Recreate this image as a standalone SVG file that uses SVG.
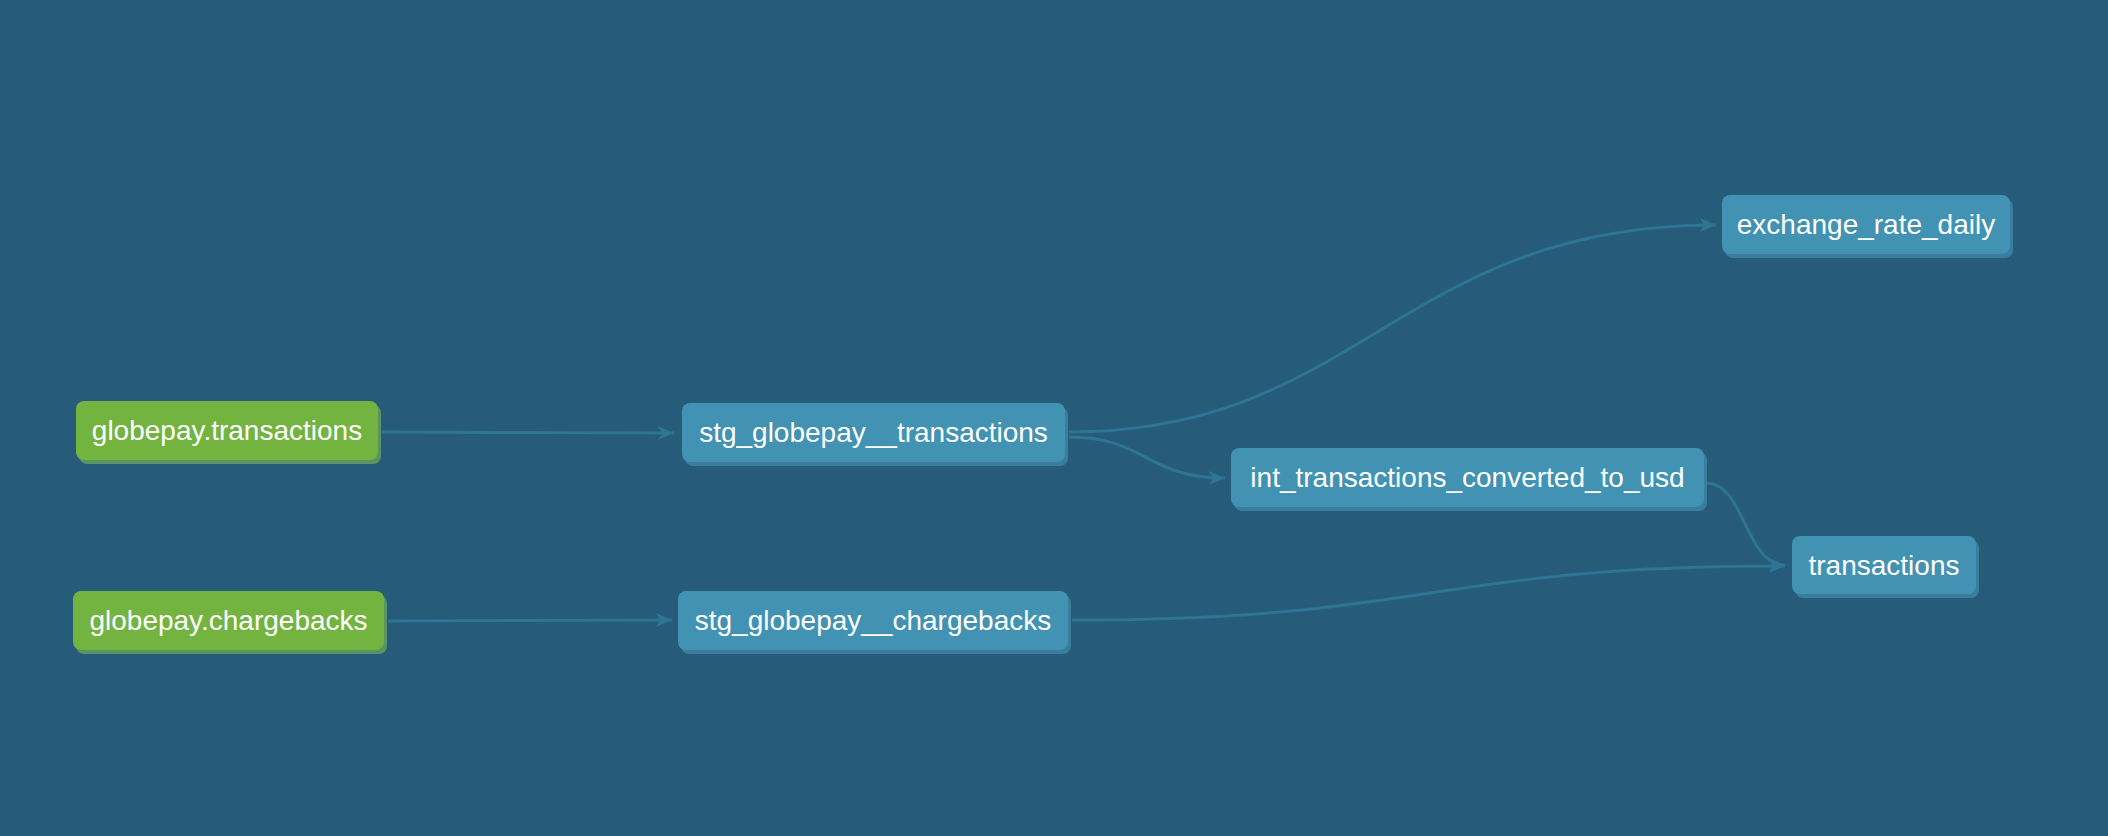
<svg xmlns="http://www.w3.org/2000/svg" width="2108" height="836" viewBox="0 0 2108 836">
<defs>
<style>
.bg{fill:#265c79}
.edge{fill:none;stroke:#2e7493;stroke-width:3}
.src .face{fill:#73b340}
.src .shadow{fill:#5a9463}
.mdl .face{fill:#4192b3}
.mdl .shadow{fill:#3a7d9d}
.label{font-family:"Liberation Sans",Arial,sans-serif;font-size:28px;fill:#ffffff;text-anchor:middle}
</style>
<marker id="arrow" markerUnits="userSpaceOnUse" markerWidth="18" markerHeight="16" refX="16" refY="7" orient="auto" viewBox="0 0 18 16">
<path d="M0,0 L16,7 L0,14 L4,7 z" fill="#2e7493"/>
</marker>
</defs>
<rect class="bg" x="0" y="0" width="2108" height="836"/>
<g id="connectors">
<path class="edge" d="M382,432 C528,432 528,433 674,433" marker-end="url(#arrow)"/>
<path class="edge" d="M388,621 C530,621 530,620 672,620" marker-end="url(#arrow)"/>
<path class="edge" d="M1069,432 C1360,432 1400,225 1716,225" marker-end="url(#arrow)"/>
<path class="edge" d="M1069,437 C1146,437 1146,478 1225,478" marker-end="url(#arrow)"/>
<path class="edge" d="M1706,483 C1745,483 1745,565 1785,565" marker-end="url(#arrow)"/>
<path class="edge" d="M1072,620 C1430,620 1430,566 1785,566" marker-end="url(#arrow)"/>
</g>
<g id="node-globepay-transactions" class="src">
<rect class="shadow" x="79" y="405" width="302" height="59" rx="8"/>
<rect class="face" x="76" y="401" width="302" height="59" rx="8"/>
<text class="label" x="227" y="440">globepay.transactions</text>
</g>
<g id="node-globepay-chargebacks" class="src">
<rect class="shadow" x="76" y="595" width="311" height="59" rx="8"/>
<rect class="face" x="73" y="591" width="311" height="59" rx="8"/>
<text class="label" x="228.5" y="630">globepay.chargebacks</text>
</g>
<g id="node-stg-globepay-transactions" class="mdl">
<rect class="shadow" x="685" y="407" width="383" height="59" rx="8"/>
<rect class="face" x="682" y="403" width="383" height="59" rx="8"/>
<text class="label" x="873.5" y="442">stg_globepay__transactions</text>
</g>
<g id="node-stg-globepay-chargebacks" class="mdl">
<rect class="shadow" x="681" y="595" width="390" height="59" rx="8"/>
<rect class="face" x="678" y="591" width="390" height="59" rx="8"/>
<text class="label" x="873" y="630">stg_globepay__chargebacks</text>
</g>
<g id="node-int-transactions-converted-to-usd" class="mdl">
<rect class="shadow" x="1234" y="452" width="473" height="59" rx="8"/>
<rect class="face" x="1231" y="448" width="473" height="59" rx="8"/>
<text class="label" x="1467.5" y="487">int_transactions_converted_to_usd</text>
</g>
<g id="node-exchange-rate-daily" class="mdl">
<rect class="shadow" x="1725" y="199" width="288" height="59" rx="8"/>
<rect class="face" x="1722" y="195" width="288" height="59" rx="8"/>
<text class="label" x="1866" y="234">exchange_rate_daily</text>
</g>
<g id="node-transactions" class="mdl">
<rect class="shadow" x="1795" y="540" width="184" height="58" rx="8"/>
<rect class="face" x="1792" y="536" width="184" height="58" rx="8"/>
<text class="label" x="1884" y="575">transactions</text>
</g>
</svg>
